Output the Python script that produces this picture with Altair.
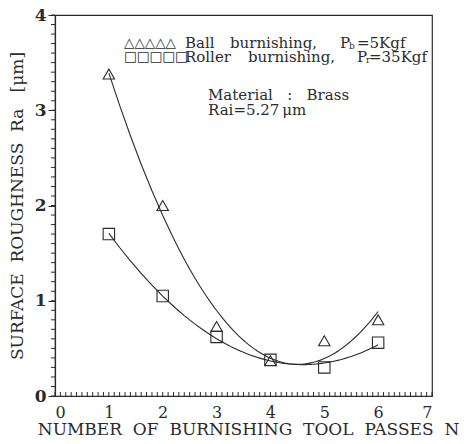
import altair as alt
import pandas as pd

# ---- data ----
passes = [1, 2, 3, 4, 5, 6]
ball_ra = [3.38, 2.00, 0.73, 0.37, 0.58, 0.80]
roller_ra = [1.70, 1.05, 0.62, 0.38, 0.30, 0.56]
series_keys = ["ball", "roller"]

x_major = [0, 1, 2, 3, 4, 5, 6, 7]
y_major = [0, 1, 2, 3, 4]
x_minor = [i / 10 for i in range(0, 71)]
y_minor = [i / 10 for i in range(0, 41)]

NB = "\u00a0"
x_title = f"NUMBER{NB}{NB}OF{NB}{NB}BURNISHING{NB}{NB}TOOL{NB}{NB}PASSES{NB}{NB}N"
y_title = f"SURFACE{NB}{NB}ROUGHNESS{NB}{NB}Ra{NB}{NB}{NB}[\u03bcm]"

legend_marks = ["\u25b3\u25b3\u25b3\u25b3\u25b3", "\u25a1\u25a1\u25a1\u25a1\u25a1"]
legend_words = [["Ball", "burnishing,", "P"], ["Roller", "burnishing,", "P"]]
legend_sub = ["b", "r"]
legend_tail = ["=5Kgf", "=35Kgf"]
note_lines = [f"Material{NB}{NB}{NB}:{NB}{NB}{NB}Brass", "Rai=5.27\u202f\u03bcm"]

df = pd.DataFrame({
    "n": passes * 2,
    "ra": ball_ra + roller_ra,
    "series": [series_keys[0]] * len(passes) + [series_keys[1]] * len(passes),
})

FONT = "DejaVu Serif"
INK = "#2b2b2b"
W, H = 377, 381
L, T = 55, 15

xscale = alt.Scale(domain=[0, 7], nice=False, zero=False)
yscale = alt.Scale(domain=[0, 4], nice=False, zero=False)

y_axis_main = alt.Axis(
    orient="left",
    values=y_major, format="d",
    tickSize=7, tickColor=INK, tickWidth=1,
    domainColor=INK, domainWidth=1.2,
    labelFont=FONT, labelFontSize=17, labelFontWeight="bold", labelColor=INK,
    labelPadding=2,
    title=y_title, titleFont=FONT, titleFontSize=17, titleFontWeight="normal",
    titleColor=INK, titlePadding=8,
    grid=False,
)

x_axis_main = alt.Axis(
    orient="bottom",
    values=x_major,
    format="d",
    ticks=False,
    domainColor=INK, domainWidth=1.2,
    labelFont=FONT, labelFontSize=16, labelColor=INK, labelPadding=8,
    title=x_title, titleFont=FONT, titleFontSize=17, titleFontWeight="normal",
    titleColor=INK, titlePadding=1, titleX=193, titleAlign="center",
    grid=False,
)

X = alt.X("n:Q", scale=xscale, axis=x_axis_main)
Y = alt.Y("ra:Q", scale=yscale, axis=y_axis_main)

base = alt.Chart(df)

curves = base.transform_regression(
    "n", "ra", groupby=["series"], method="poly", order=2, extent=[1, 6]
).mark_line(color=INK, strokeWidth=1.1).encode(x=X, y=Y, detail="series:N")

points = base.mark_point(filled=False, color=INK, strokeWidth=1.1, size=130, opacity=1).encode(
    x=X, y=Y,
    shape=alt.Shape("series:N", scale=alt.Scale(domain=series_keys, range=["triangle-up", "square"]), legend=None),
)

# minor ticks: x ticks point inward (up), y ticks point outward (left)
x_ticks = alt.Chart(pd.DataFrame({"n": x_minor})).mark_tick(
    color=INK, thickness=1, size=4, orient="vertical", opacity=1
).encode(x=X, y=alt.value(H - 2))

y_ticks = alt.Chart(pd.DataFrame({"ra": y_minor})).mark_tick(
    color=INK, thickness=1, size=4, orient="horizontal", opacity=1
).encode(y=Y, x=alt.value(-2))


def label(text, px, py, size, font=FONT):
    return alt.Chart(pd.DataFrame({"t": [text]})).mark_text(
        font=font, fontSize=size, align="left", baseline="middle", color=INK
    ).encode(x=alt.value(px - L), y=alt.value(py - T), text="t:N")


rows_y = [43, 57]
word_x = [[185, 230, 340], [185, 248, 357]]
sub_x = [349, 366]
tail_x = [357, 369]
texts = []
for i in range(2):
    texts.append(label(legend_marks[i], 124, rows_y[i], 13.5, font="DejaVu Sans"))
    for w, wx in zip(legend_words[i], word_x[i]):
        texts.append(label(w, wx, rows_y[i], 15))
    texts.append(label(legend_sub[i], sub_x[i], rows_y[i] + 3, 9))
    texts.append(label(legend_tail[i], tail_x[i], rows_y[i], 15))
texts.append(label(note_lines[0], 208, 95, 15))
texts.append(label(note_lines[1], 208, 110, 15))

chart = alt.layer(curves, points, x_ticks, y_ticks, *texts).properties(
    width=W, height=H,
    autosize=alt.AutoSizeParams(type="none"),
    padding={"left": L, "top": T, "right": 464 - L - W, "bottom": 444 - T - H},
    background="white",
).configure_view(
    stroke=INK, strokeWidth=1.2,
)

chart.save("out.html", embed_options={"renderer": "svg", "actions": False})
